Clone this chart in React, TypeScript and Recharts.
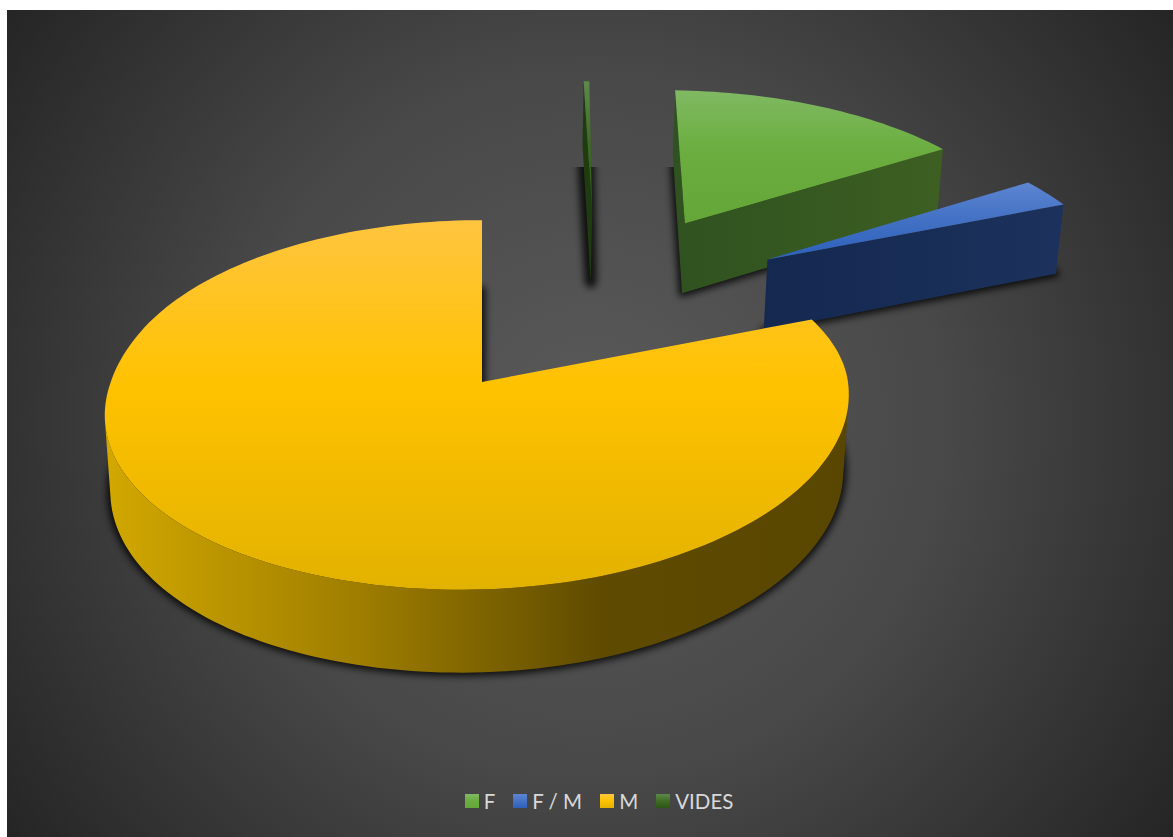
import React from 'react';
import { Legend, Pie, PieChart } from 'recharts';

const categories = ['F', 'F / M', 'M', 'VIDES'];
const values = [156, 28, 813, 3];
const topStops = [
  ['#80b963', '#6bae3f', '#64a637'],
  ['#5d86d2', '#4472c4', '#2d60bd'],
  ['#ffc53f', '#ffc200', '#e2b200'],
  ['#5d8a4c', '#3f6c24', '#2c5518'],
];
const wallStops = [
  ['#2f5220', '#3d5f22'],
  ['#142850', '#1c325c'],
  ['#d2a800', '#a07f00', '#5f4b00', '#594600'],
  ['#1e3c10', '#1e3c10'],
];

const WIDTH = 1173;
const HEIGHT = 837;
const TILT = 0.493; // squash of the pie plane
const PERSPECTIVE = 0.124;
const DEPTH = 0.2087;
const DEPTH_PERSPECTIVE = 0.015;
const EXPLODE = 0.578;
const PADDING = 0.5;
const M_INDEX = 2;
const SLICE_SCALE = [1.025, 1.02, 1, 1.025];

const total = values.reduce((a, b) => a + b, 0);
const degPerUnit = (360 - values.length * PADDING) / total;
// M has to finish at exactly 12 o'clock, VIDES sits in the gap after it
const firstAngle = 90 - (values[3] * degPerUnit + 2 * PADDING);
const data = categories.map((name, i) => ({ name, value: values[i], fill: topStops[i][1] }));

// M stays put, everything else is exploded relative to it
const mStart = firstAngle - (values[0] + values[1]) * degPerUnit - 2 * PADDING;
const mMid = mStart - (values[2] * degPerUnit) / 2;
const rad = (deg: number) => (deg * Math.PI) / 180;
const shiftU = -EXPLODE * Math.cos(rad(mMid));
const shiftV = EXPLODE * Math.sin(rad(mMid));

const Slice3D = (props: any) => {
  const { cx, cy, outerRadius: r, startAngle, endAngle, midAngle, index } = props;
  const offU = EXPLODE * Math.cos(rad(midAngle)) + shiftU;
  const offV = -EXPLODE * Math.sin(rad(midAngle)) + shiftV;
  const scale = SLICE_SCALE[index];

  const project = (u: number, v: number, w: number, rim: boolean) => {
    const pu = u * scale + offU;
    const pv = v * scale + offV;
    const d = 1 - PERSPECTIVE * pv + DEPTH_PERSPECTIVE * w;
    // the big slice's rim leans a little, the camera is slightly off axis
    const lean = rim && index === M_INDEX ? Math.max(0, v + 0.35) : 0;
    const leanX = -Math.min(13, 11 * lean);
    const leanY = -5 * u * Math.min(1, lean / 0.35);
    return [cx + (r * pu) / d + leanX, cy + (r * (TILT * pv + DEPTH * w)) / d + leanY];
  };

  const plane: number[][] = [[0, 0]];
  const steps = Math.max(2, Math.ceil(Math.abs(startAngle - endAngle) / 1.5));
  for (let i = 0; i <= steps; i++) {
    const a = rad(startAngle + ((endAngle - startAngle) * i) / steps);
    plane.push([Math.cos(a), -Math.sin(a)]);
  }
  const top = plane.map(([u, v], i) => project(u, v, 0, i > 0));
  const bottom = plane.map(([u, v], i) => project(u, v, 1, i > 0));
  const toPath = (pts: number[][]) =>
    'M' + pts.map((p) => `${p[0].toFixed(2)},${p[1].toFixed(2)}`).join('L') + 'Z';

  const facing = (i: number, j: number) => {
    const q = [top[i], top[j], bottom[j], bottom[i]];
    let area = 0;
    q.forEach((p, n) => {
      const o = q[(n + 1) % 4];
      area += p[0] * o[1] - o[0] * p[1];
    });
    return area < 0;
  };

  // visible walls: both cut faces plus runs along the rim
  const walls: string[] = [];
  const n = plane.length;
  if (facing(0, 1)) walls.push(toPath([top[0], top[1], bottom[1], bottom[0]]));
  if (facing(n - 1, 0)) walls.push(toPath([top[n - 1], top[0], bottom[0], bottom[n - 1]]));
  let run: number[] = [];
  const flush = () => {
    if (run.length > 1) {
      walls.push(toPath([...run.map((i) => top[i]), ...run.slice().reverse().map((i) => bottom[i])]));
    }
    run = [];
  };
  for (let i = 1; i < n - 1; i++) {
    if (facing(i, i + 1)) {
      if (!run.length) run.push(i);
      run.push(i + 1);
    } else flush();
  }
  flush();

  const wallColors = wallStops[index];
  return (
    <g>
      <defs>
        <linearGradient id={`top-${index}`} x1="0" y1="0" x2="0" y2="1">
          <stop offset="0" stopColor={topStops[index][0]} />
          <stop offset="0.45" stopColor={topStops[index][1]} />
          <stop offset="1" stopColor={topStops[index][2]} />
        </linearGradient>
        <linearGradient id={`wall-${index}`} x1="0" y1="0" x2="1" y2="0">
          {wallColors.map((c, i) => (
            <stop key={i} offset={i / (wallColors.length - 1)} stopColor={c} />
          ))}
        </linearGradient>
        <filter id={`blur-${index}`} x={-20} y={-20} width={WIDTH + 40} height={HEIGHT + 40} filterUnits="userSpaceOnUse">
          <feGaussianBlur stdDeviation="3.5" />
        </filter>
        <clipPath id={`shadow-clip-${index}`}>
          <rect x="0" y="167" width={WIDTH} height={HEIGHT} />
        </clipPath>
      </defs>
      <g clipPath={`url(#shadow-clip-${index})`}>
        <path
          d={toPath(bottom)}
          fill="#000"
          stroke="#000"
          strokeWidth={index === 3 ? 12 : 7}
          strokeLinejoin="round"
          opacity={0.8}
          filter={`url(#blur-${index})`}
        />
      </g>
      <path d={walls.join('')} fill={`url(#wall-${index})`} />
      <path d={toPath(top)} fill={`url(#top-${index})`} />
    </g>
  );
};

const LegendRow = () => (
  <div
    style={{
      display: 'flex',
      justifyContent: 'center',
      alignItems: 'center',
      fontFamily: 'Lato, sans-serif',
      fontSize: 20.5,
      color: '#d9d9d9',
      gap: 18,
    }}
  >
    {categories.map((name, i) => (
      <span key={name} style={{ display: 'flex', alignItems: 'center', gap: 5 }}>
        <span
          style={{
            width: 14,
            height: 14,
            display: 'inline-block',
            background: `linear-gradient(${topStops[i][0]}, ${topStops[i][1]} 50%, ${topStops[i][2]})`,
          }}
        />
        {name}
      </span>
    ))}
  </div>
);

export default function App() {
  return (
    <div style={{ position: 'absolute', left: 0, top: 0, width: WIDTH, height: HEIGHT, background: '#fff' }}>
      <div
        style={{
          position: 'absolute',
          left: 7,
          top: 10,
          right: 0,
          bottom: 0,
          background: 'radial-gradient(circle farthest-corner at center, #5a5a5a 0%, #484848 50%, #252525 100%)',
        }}
      />
      <PieChart width={WIDTH} height={HEIGHT} margin={{ top: 0, right: 0, bottom: 0, left: 0 }} style={{ position: 'absolute', left: 0, top: 0 }}>
        <Pie
          data={data}
          dataKey="value"
          nameKey="name"
          cx={482}
          cy={382}
          innerRadius={0}
          outerRadius={369}
          startAngle={firstAngle}
          endAngle={firstAngle - 360}
          stroke="none"
          paddingAngle={PADDING}
          isAnimationActive={false}
          shape={Slice3D}
        />
        <Legend
          content={<LegendRow />}
          wrapperStyle={{ position: 'absolute', left: 0, top: 789, width: 1198, height: 28 }}
        />
      </PieChart>
    </div>
  );
}
